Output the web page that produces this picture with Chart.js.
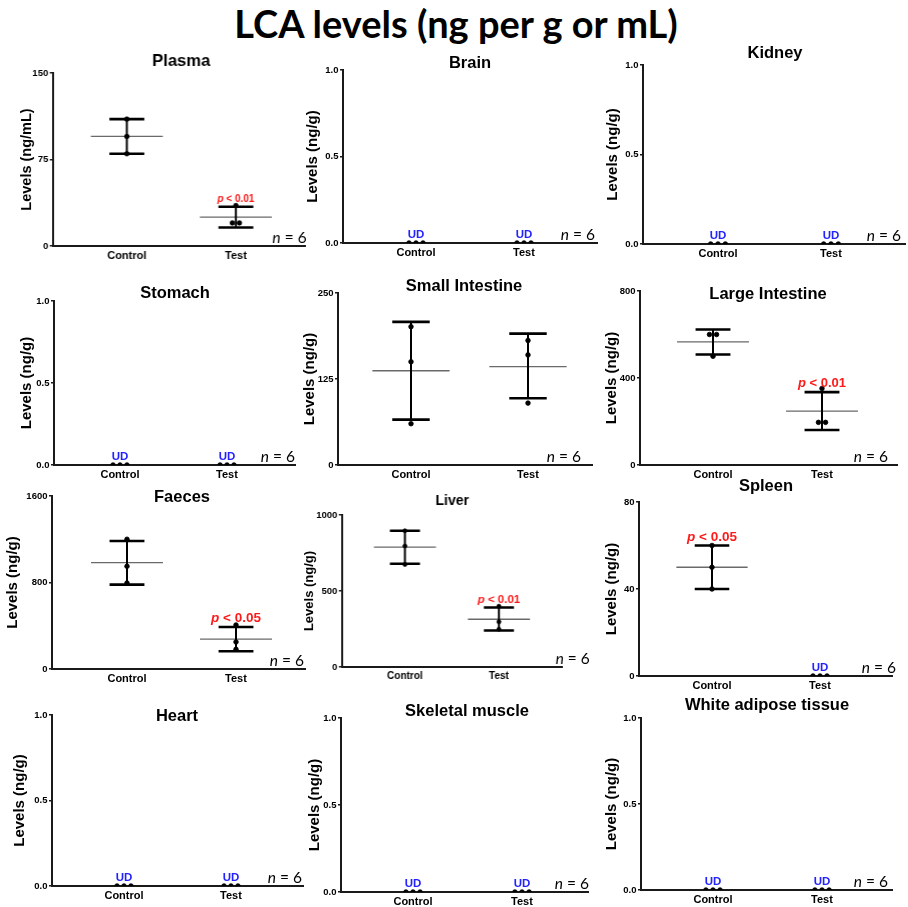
<!DOCTYPE html>
<html lang="en">
<head>
<meta charset="UTF-8">
<title>LCA levels (ng per g or mL)</title>
<script src="https://cdn.jsdelivr.net/npm/chart.js@4.4.1/dist/chart.umd.min.js"></script>
<style>
    html, body { margin: 0; padding: 0; background: #fff; }
    #page { position: relative; width: 908px; height: 907px; overflow: hidden; }
    #mainTitle {
        position: absolute; left: 0; top: 0; width: 912px; text-align: center;
        font-family: Lato, "Open Sans", sans-serif; font-weight: bold; font-size: 38px; color: #000;
    }
    .panel { position: absolute; }
</style>
</head>
<body>
<div id="page">
    <div id="mainTitle">LCA levels (ng per g or mL)</div>
</div>

<script>
// ---- values ----
const organs = ['Plasma', 'Brain', 'Kidney', 'Stomach', 'Small Intestine', 'Large Intestine',
                'Faeces', 'Liver', 'Spleen', 'Heart', 'Skeletal muscle', 'White adipose tissue'];
const groups = ['Control', 'Test'];
const yMax = [150, 1, 1, 1, 250, 800, 1600, 1000, 80, 1, 1, 1];
const yUnits = ['ng/mL', 'ng/g', 'ng/g', 'ng/g', 'ng/g', 'ng/g', 'ng/g', 'ng/g', 'ng/g', 'ng/g', 'ng/g', 'ng/g'];

const controlPoints = [[110, 95, 80], [0, 0, 0], [0, 0, 0], [0, 0, 0], [201, 150, 60], [600, 600, 500],
                       [1200, 950, 795], [896, 796, 675], [60, 50, 40], [0, 0, 0], [0, 0, 0], [0, 0, 0]];
const testPoints = [[35, 20, 20], [0, 0, 0], [0, 0, 0], [0, 0, 0], [181, 160, 90], [352, 196, 196],
                    [407, 250, 182], [400, 297, 248], [0, 0, 0], [0, 0, 0], [0, 0, 0], [0, 0, 0]];

// mean and error bar ends (null = undetectable)
const controlMean = [95, null, null, null, 137, 566, 983, 789, 50, null, null, null];
const controlLow  = [80, null, null, null, 66, 508, 780, 679, 40, null, null, null];
const controlHigh = [110, null, null, null, 208, 623, 1184, 896, 60, null, null, null];
const testMean = [25, null, null, null, 143, 248, 277, 314, null, null, null, null];
const testLow  = [16, null, null, null, 97, 161, 164, 240, null, null, null, null];
const testHigh = [34, null, null, null, 191, 335, 388, 391, null, null, null, null];

const pText  = ['< 0.01', null, null, null, null, '< 0.01', '< 0.05', '< 0.01', '< 0.05', null, null, null];
const pGroup = [2, 0, 0, 0, 0, 2, 2, 2, 1, 0, 0, 0];
const nLabel = '6';
const udLabel = 'UD';

// ---- layout in page pixels: axisLeft, axisTop, axisZero, axisRight, controlX, testX ----
const frames = [
    [53, 73, 246, 305, 127, 236],
    [343, 70, 243, 597, 416, 524],
    [643, 65, 244, 905, 718, 831],
    [54, 301, 465, 295, 120, 227],
    [338, 293, 465, 592, 411, 528],
    [640, 291, 465, 897, 713, 822],
    [52, 496, 669, 305, 127, 236],
    [342, 515, 667, 562, 405, 499],
    [639, 502, 676, 892, 712, 820],
    [52, 715, 886, 303, 124, 231],
    [341, 718, 892, 588, 413, 522],
    [641, 718, 890, 892, 713, 822]
];
const titlePos = [[181, 61], [470, 63], [775, 53], [175, 293], [464, 286], [768, 294],
                  [182, 497], [452, 501], [766, 486], [177, 716], [467, 711], [767, 705]];
const yTitleGap = [26, 30, 30, 27, 28, 28, 39, 32, 27, 32, 26, 29];
const nShift = [1, -2, -4, 0, -11, -9, -1, 27, 4, -1, 1, -4];
const pSize = [10, 0, 0, 0, 0, 13, 13.5, 11.5, 13.5, 0, 0, 0];

const PAD_TOP = 30, PAD_RIGHT = 40, X_AXIS_H = 26;
const MEAN_HALF = 0.33, CAP_HALF = 0.16, JITTER = 0.065;
const ARIAL = '"Liberation Sans", Arial, sans-serif';
const CAL = 'Lato, "Open Sans", sans-serif';

Chart.defaults.font.family = ARIAL;
Chart.defaults.color = '#000';

function jitter(values, gx) {
    const counts = {}, seen = {};
    values.forEach(v => { counts[v] = (counts[v] || 0) + 1; });
    return values.map(v => {
        const k = seen[v] = (seen[v] === undefined ? 0 : seen[v] + 1);
        return { x: gx + (k - (counts[v] - 1) / 2) * JITTER, y: v };
    });
}

function buildDatasets(i) {
    const means = [controlMean[i], testMean[i]];
    const lows = [controlLow[i], testLow[i]];
    const highs = [controlHigh[i], testHigh[i]];
    const pts = [controlPoints[i], testPoints[i]];
    const meanLine = [], stems = [], caps = [], dots = [];
    for (let g = 0; g < 2; g++) {
        const gx = g + 1;
        dots.push(...jitter(pts[g], gx));
        if (means[g] === null) continue;
        meanLine.push({x: gx - MEAN_HALF, y: means[g]}, {x: gx + MEAN_HALF, y: means[g]}, {x: gx, y: null});
        stems.push({x: gx, y: lows[g]}, {x: gx, y: highs[g]}, {x: gx, y: null});
        caps.push({x: gx - CAP_HALF, y: highs[g]}, {x: gx + CAP_HALF, y: highs[g]}, {x: gx, y: null},
                  {x: gx - CAP_HALF, y: lows[g]}, {x: gx + CAP_HALF, y: lows[g]}, {x: gx, y: null});
    }
    const line = (data, color, width, order) => ({
        data, order, showLine: true, borderColor: color, borderWidth: width, pointRadius: 0, spanGaps: false
    });
    // lower order is drawn on top
    return [
        line(meanLine, '#6a6a6a', 1.3, 4),
        line(stems, '#000', 2, 3),
        line(caps, '#000', 2.6, 2),
        {
            data: dots, order: 1, showLine: false, pointRadius: i === 7 ? 2 : 2.3,
            pointBackgroundColor: '#000', pointBorderColor: '#000', pointBorderWidth: 0.8
        }
    ];
}

const annotate = {
    id: 'annotate',
    afterDraw(chart, args, o) {
        const i = o.index, ctx = chart.ctx;
        const xs = chart.scales.x, ys = chart.scales.y;
        const [L, T, Z, R] = frames[i];
        const left0 = o.left, top0 = o.top;
        ctx.save();
        ctx.fillStyle = '#000';
        // panel title
        ctx.font = `bold ${i === 7 ? 14 : 16.5}px ${ARIAL}`;
        ctx.textAlign = 'center';
        ctx.textBaseline = 'middle';
        ctx.fillText(organs[i], titlePos[i][0] - left0, titlePos[i][1] - top0);

        // UD labels
        const means = [controlMean[i], testMean[i]];
        ctx.font = `bold 11.5px ${ARIAL}`;
        ctx.fillStyle = '#2323ff';
        ctx.textBaseline = 'alphabetic';
        means.forEach((m, g) => {
            if (m === null) ctx.fillText(udLabel, xs.getPixelForValue(g + 1), ys.getPixelForValue(0) - 5);
        });

        // p value
        if (pText[i]) {
            const g = pGroup[i] - 1;
            const hi = g === 0 ? controlHigh[i] : testHigh[i];
            const size = pSize[i];
            const italic = `italic bold ${size}px ${ARIAL}`, bold = `bold ${size}px ${ARIAL}`;
            ctx.font = italic;
            const wp = ctx.measureText('p ').width;
            ctx.font = bold;
            const wr = ctx.measureText(pText[i]).width;
            let x = xs.getPixelForValue(g + 1) - (wp + wr) / 2;
            const y = ys.getPixelForValue(hi) - 5;
            ctx.fillStyle = '#ff1a1a';
            ctx.textAlign = 'left';
            ctx.font = italic;
            ctx.fillText('p', x, y);
            ctx.font = bold;
            ctx.fillText(pText[i], x + wp, y);
        }

        // n = 6
        ctx.fillStyle = '#000';
        ctx.textAlign = 'left';
        ctx.font = `italic 15.5px ${CAL}`;
        const wn = ctx.measureText('n').width;
        ctx.font = `15.5px ${CAL}`;
        const rest = ' = ' + nLabel;
        const wrst = ctx.measureText(rest).width;
        const nx = R + nShift[i] - left0 - (wn + wrst);
        const ny = Z - 3 - top0;
        ctx.font = `italic 15.5px ${CAL}`;
        ctx.fillText('n', nx, ny);
        ctx.font = `15.5px ${CAL}`;
        ctx.fillText(rest, nx + wn, ny);
        ctx.restore();
    }
};

const page = document.getElementById('page');

organs.forEach((organ, i) => {
    const [L, T, Z, R, C, Tx] = frames[i];
    const yTitleSize = i === 7 ? 13 : (i === 0 ? 14.5 : 15);
    const W = yTitleGap[i] + yTitleSize * 0.6;
    const left0 = L - W, top0 = T - PAD_TOP;
    const width = W + (R - L) + PAD_RIGHT;
    const height = PAD_TOP + (Z - T) + X_AXIS_H;
    const unit = Tx - C;

    const box = document.createElement('div');
    box.className = 'panel';
    box.style.left = left0 + 'px';
    box.style.top = top0 + 'px';
    const canvas = document.createElement('canvas');
    canvas.width = width;
    canvas.height = height;
    canvas.style.width = width + 'px';
    canvas.style.height = height + 'px';
    box.appendChild(canvas);
    page.appendChild(box);

    const M = yMax[i];
    new Chart(canvas, {
        type: 'scatter',
        data: { datasets: buildDatasets(i) },
        options: {
            responsive: false,
            animation: false,
            devicePixelRatio: 1,
            layout: { padding: { top: PAD_TOP, right: PAD_RIGHT, left: 0, bottom: 0 } },
            plugins: {
                legend: { display: false },
                tooltip: { enabled: false },
                annotate: { index: i, left: left0, top: top0 }
            },
            scales: {
                x: {
                    type: 'linear',
                    min: 1 - (C - L) / unit,
                    max: 2 + (R - Tx) / unit,
                    afterFit: s => { s.height = X_AXIS_H; },
                    afterBuildTicks: s => { s.ticks = [{value: 1}, {value: 2}]; },
                    grid: { display: false, drawTicks: false },
                    border: { display: true, color: '#1a1a1a', width: 2 },
                    ticks: {
                        padding: 3.5,
                        maxRotation: 0,
                        font: { weight: 'bold', size: i === 7 ? 10 : 11 },
                        callback: v => groups[v - 1] || ''
                    }
                },
                y: {
                    min: 0,
                    max: M,
                    afterFit: s => { s.width = W; },
                    afterBuildTicks: s => { s.ticks = [{value: 0}, {value: M / 2}, {value: M}]; },
                    grid: { display: true, drawOnChartArea: false, drawTicks: true, tickLength: 3,
                            color: '#1a1a1a', lineWidth: 1.5 },
                    border: { display: true, color: '#1a1a1a', width: 2 },
                    ticks: {
                        padding: 1.5,
                        font: { weight: 'bold', size: 9.5 },
                        callback: v => M === 1 ? v.toFixed(1) : String(v)
                    },
                    title: {
                        display: true,
                        text: 'Levels (' + yUnits[i] + ')',
                        padding: 0,
                        font: { weight: 'bold', size: yTitleSize }
                    }
                }
            }
        },
        plugins: [annotate]
    });
});
</script>
</body>
</html>
